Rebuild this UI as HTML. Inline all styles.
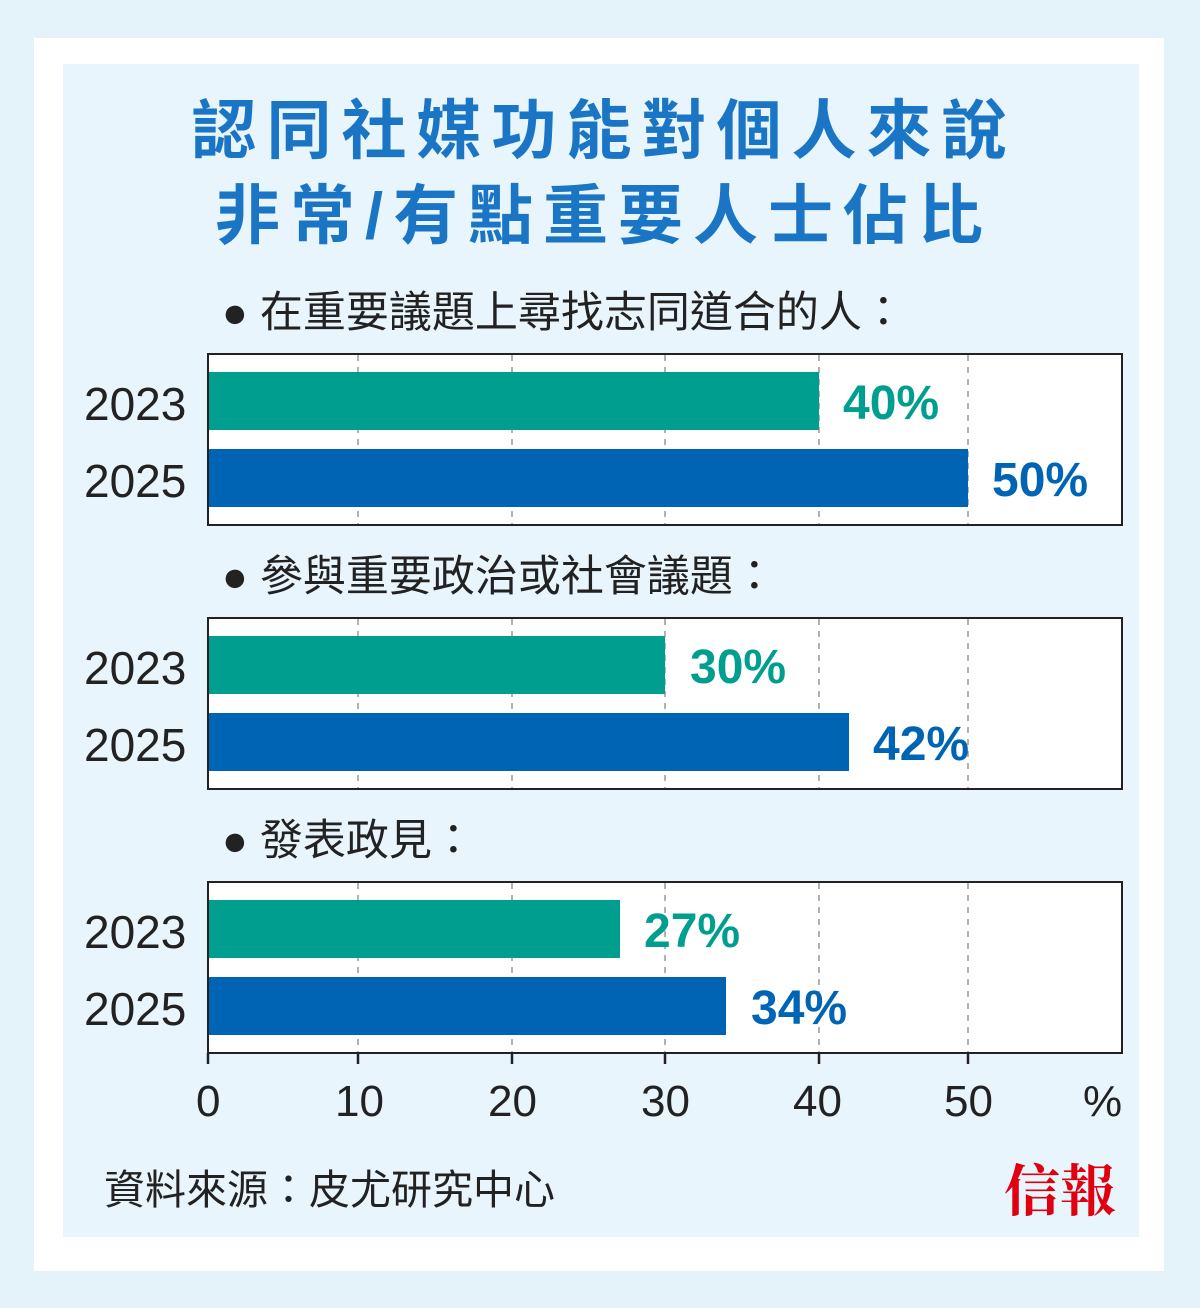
<!DOCTYPE html>
<html><head><meta charset="utf-8"><style>
body{margin:0;width:1200px;height:1308px;background:#e4f2fa;position:relative;overflow:hidden;font-family:"Liberation Sans","Noto Sans CJK TC",sans-serif}
.a{position:absolute}
.card{left:34px;top:38px;width:1130px;height:1233px;background:#fff}
.pan{left:63px;top:64px;width:1076px;height:1173px;background:#e8f5fd}
.t{left:4px;width:1200px;text-align:center;color:#1a75c4;font-size:65px;font-weight:bold;letter-spacing:10px;line-height:1}
.sub{left:222px;font-size:43px;color:#222;line-height:1}
.box{left:207px;width:916px;height:173px;border:2px solid #222;background:#fff;box-sizing:border-box}
.yr{left:84px;font-size:46px;color:#222;line-height:1}
.bar{left:209px;height:58px}
.g{background:#009e8f}.b{background:#0064b4}
.lab{font-size:48px;font-weight:bold;line-height:1}
.tk{font-size:44px;color:#222;top:1080px;line-height:1}
</style></head><body>
<div class="a card"></div>
<div class="a pan"></div>
<div class="a t" style="top:98px">認同社媒功能對個人來說</div>
<div class="a t" style="top:183px">非常/有點重要人士佔比</div>

<div class="a sub" style="top:292px">● 在重要議題上尋找志同道合的人：</div>
<div class="a sub" style="top:556px">● 參與重要政治或社會議題：</div>
<div class="a sub" style="top:820px">● 發表政見：</div>

<div class="a box" style="top:353px"></div>
<div class="a box" style="top:617px"></div>
<div class="a box" style="top:881px"></div>

<svg class="a" style="left:0;top:0" width="1200" height="1308">
<g stroke="#999" stroke-width="1.5" stroke-dasharray="6,6">
<path d="M358 355V524M512 355V524M665 355V524M819 355V524M968 355V524"/>
<path d="M358 619V788M512 619V788M665 619V788M819 619V788M968 619V788"/>
<path d="M358 883V1052M512 883V1052M665 883V1052M819 883V1052M968 883V1052"/>
</g>
<g stroke="#222" stroke-width="2.5">
<path d="M208 1053V1064M358 1053V1064M512 1053V1064M665 1053V1064M819 1053V1064M968 1053V1064"/>
</g>
</svg>

<div class="a bar g" style="top:372px;width:610px"></div>
<div class="a bar b" style="top:449px;width:759px"></div>
<div class="a bar g" style="top:636px;width:456px"></div>
<div class="a bar b" style="top:713px;width:640px"></div>
<div class="a bar g" style="top:900px;width:411px"></div>
<div class="a bar b" style="top:977px;width:517px"></div>

<div class="a lab" style="left:843px;top:380px;color:#009e8f">40%</div>
<div class="a lab" style="left:992px;top:457px;color:#0064b4">50%</div>
<div class="a lab" style="left:690px;top:644px;color:#009e8f">30%</div>
<div class="a lab" style="left:873px;top:721px;color:#0064b4">42%</div>
<div class="a lab" style="left:644px;top:908px;color:#009e8f">27%</div>
<div class="a lab" style="left:751px;top:985px;color:#0064b4">34%</div>

<div class="a yr" style="top:381px">2023</div>
<div class="a yr" style="top:458px">2025</div>
<div class="a yr" style="top:645px">2023</div>
<div class="a yr" style="top:722px">2025</div>
<div class="a yr" style="top:909px">2023</div>
<div class="a yr" style="top:986px">2025</div>

<div class="a tk" style="left:196px">0</div>
<div class="a tk" style="left:335px">10</div>
<div class="a tk" style="left:488px">20</div>
<div class="a tk" style="left:641px">30</div>
<div class="a tk" style="left:793px">40</div>
<div class="a tk" style="left:944px">50</div>
<div class="a tk" style="left:1083px">%</div>

<div class="a" style="left:104px;top:1170px;font-size:41px;color:#222;line-height:1">資料來源：皮尤研究中心</div>
<div class="a" style="left:1004px;top:1160px;font-size:56px;color:#e00010;font-weight:bold;font-family:'Noto Serif CJK SC','Liberation Serif',serif;line-height:1">信報</div>
</body></html>
